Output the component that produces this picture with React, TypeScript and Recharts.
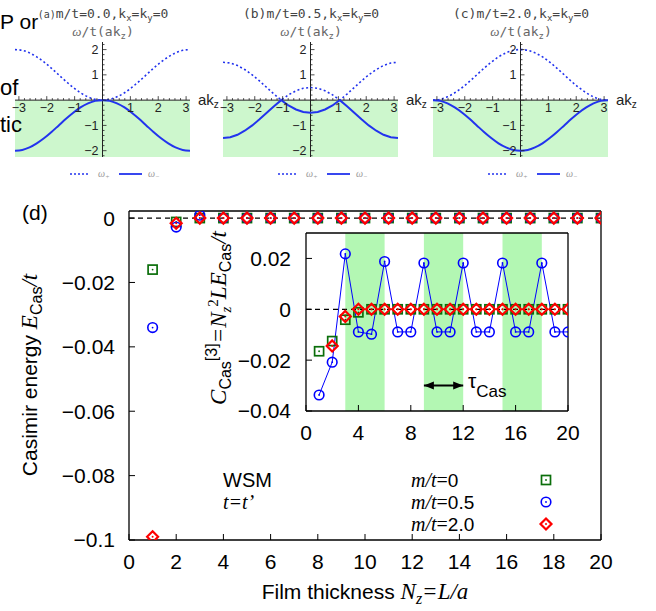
import React from 'react';
import {
  LineChart, Line, XAxis, YAxis, ReferenceArea, ReferenceLine,
  ScatterChart, Scatter, ComposedChart,
} from 'recharts';

// ---------------- fonts / colours ----------------
const SANS = "'Liberation Sans', Arial, Helvetica, sans-serif";
const SERIF = "'Liberation Serif', 'Times New Roman', serif";
const MONO = "'DejaVu Sans Mono', 'Liberation Mono', monospace";
const GREEN = '#0a6e0a';
const BLUE = '#0000ff';
const RED = '#ff0000';
const BAND = '#b3f7b3';
const TOP_GREEN = '#cdf7cd';
const CURVE = '#2233ee';

// ---------------- top panels: ω/t vs ak_z ----------------
const K = [-3.14, -2.88, -2.62, -2.36, -2.09, -1.83, -1.57, -1.31, -1.05, -0.79, -0.52, -0.26, 0,
  0.26, 0.52, 0.79, 1.05, 1.31, 1.57, 1.83, 2.09, 2.36, 2.62, 2.88, 3.14];
const A_PLUS = [2, 1.97, 1.87, 1.71, 1.5, 1.26, 1, 0.74, 0.5, 0.29, 0.13, 0.03, 0,
  0.03, 0.13, 0.29, 0.5, 0.74, 1, 1.26, 1.5, 1.71, 1.87, 1.97, 2];
const A_MINUS = [-2, -1.97, -1.87, -1.71, -1.5, -1.26, -1, -0.74, -0.5, -0.29, -0.13, -0.03, 0,
  -0.03, -0.13, -0.29, -0.5, -0.74, -1, -1.26, -1.5, -1.71, -1.87, -1.97, -2];
const B_PLUS = [1.5, 1.47, 1.37, 1.21, 1, 0.76, 0.5, 0.24, 0, 0.21, 0.37, 0.47, 0.5,
  0.47, 0.37, 0.21, 0, 0.24, 0.5, 0.76, 1, 1.21, 1.37, 1.47, 1.5];
const B_MINUS = [-1.5, -1.47, -1.37, -1.21, -1, -0.76, -0.5, -0.24, 0, -0.21, -0.37, -0.47, -0.5,
  -0.47, -0.37, -0.21, 0, -0.24, -0.5, -0.76, -1, -1.21, -1.37, -1.47, -1.5];
const C_PLUS = [0, 0.03, 0.13, 0.29, 0.5, 0.74, 1, 1.26, 1.5, 1.71, 1.87, 1.97, 2,
  1.97, 1.87, 1.71, 1.5, 1.26, 1, 0.74, 0.5, 0.29, 0.13, 0.03, 0];
const C_MINUS = [0, -0.03, -0.13, -0.29, -0.5, -0.74, -1, -1.26, -1.5, -1.71, -1.87, -1.97, -2,
  -1.97, -1.87, -1.71, -1.5, -1.26, -1, -0.74, -0.5, -0.29, -0.13, -0.03, 0];
const TOP_X_TICKS = [-3, -2.8, -2.6, -2.4, -2.2, -2, -1.8, -1.6, -1.4, -1.2, -1, -0.8, -0.6, -0.4, -0.2, 0,
  0.2, 0.4, 0.6, 0.8, 1, 1.2, 1.4, 1.6, 1.8, 2, 2.2, 2.4, 2.6, 2.8, 3];
const TOP_Y_TICKS = [-2.2, -2, -1.8, -1.6, -1.4, -1.2, -1, -0.8, -0.6, -0.4, -0.2, 0,
  0.2, 0.4, 0.6, 0.8, 1, 1.2, 1.4, 1.6, 1.8, 2, 2.2];
const PANEL_TITLES = ['(a)', '(b)', '(c)'];
const PANEL_M = ['0.0', '0.5', '2.0'];

// ---------------- panel (d): Casimir energy ----------------
const NZ = [1, 2, 3, 4, 5, 6, 7, 8, 9, 10, 11, 12, 13, 14, 15, 16, 17, 18, 19, 20];
const E_M0 = [-0.016, -0.0012, 0, 0, 0, 0, 0, 0, 0, 0, 0, 0, 0, 0, 0, 0, 0, 0, 0, 0];
const E_M05 = [-0.034, -0.0028, 0.0009, 0, 0, 0, 0, 0, 0, 0, 0, 0, 0, 0, 0, 0, 0, 0, 0, 0];
const E_M2 = [-0.099, -0.0016, 0, 0, 0, 0, 0, 0, 0, 0, 0, 0, 0, 0, 0, 0, 0, 0, 0, 0];
const MAIN_X_TICKS = [0, 2, 4, 6, 8, 10, 12, 14, 16, 18, 20];
const MAIN_Y_TICKS = [0, -0.02, -0.04, -0.06, -0.08, -0.1];
const LEGEND_M = ['0', '0.5', '2.0'];

// inset: C_Cas^[3]
const C_M0 = [-0.0165, -0.0125, -0.0041, -0.0012, 0, 0, 0, 0, 0, 0, 0, 0, 0, 0, 0, 0, 0, 0, 0, 0];
const C_M05 = [-0.0337, -0.0208, 0.0218, -0.0089, -0.0098, 0.0188, -0.0089, -0.0089, 0.0182, -0.0089,
  -0.0089, 0.0182, -0.0089, -0.0089, 0.0182, -0.0089, -0.0089, 0.0182, -0.0089, -0.0089];
const C_M2_NZ = [2, 3, 4, 5, 6, 7, 8, 9, 10, 11, 12, 13, 14, 15, 16, 17, 18, 19, 20];
const C_M2 = [-0.0144, -0.0028, 0, 0, 0, 0, 0, 0, 0, 0, 0, 0, 0, 0, 0, 0, 0, 0, 0];
const INSET_X_TICKS = [0, 4, 8, 12, 16, 20];
const INSET_Y_TICKS = [0.02, 0, -0.02, -0.04];
const BANDS = [[3, 6], [9, 12], [15, 18]];
const ARROW_X = [9, 12];
const ARROW_Y = -0.03;

// ---------------- layout constants ----------------
const TOP_T = 42;
const TOP_H = 115;
const TOP_W = 175;
const Y_MAX = 2.3;
const Y_MIN = -2.25;
const ZERO_DY = TOP_T + TOP_H * (Y_MAX / (Y_MAX - Y_MIN)) - (TOP_T + TOP_H);
const PANEL_LEFT = [0, 208, 418];

const fmtMinus = (v: number) => (v < 0 ? '\u2212' + String(Math.abs(v)) : String(v));

const TopXTick = (p: any) => {
  const v = p.payload.value;
  const major = Math.abs(v - Math.round(v)) < 1e-6;
  const y0 = p.y + ZERO_DY;
  return (
    <g>
      <line x1={p.x} x2={p.x} y1={y0} y2={y0 - (major ? 4 : 2)} stroke="#222" strokeWidth={0.8} />
      {major && v !== 0 ? (
        <text x={p.x} y={y0 + 12} textAnchor="middle" fontSize={12.5} fill="#222" fontFamily={SANS}>{fmtMinus(v)}</text>
      ) : null}
    </g>
  );
};

const TopYTick = (p: any) => {
  const v = p.payload.value;
  const major = Math.abs(v - Math.round(v)) < 1e-6;
  const x0 = p.x + TOP_W / 2;
  return (
    <g>
      <line x1={x0} x2={x0 + (major ? 4 : 2)} y1={p.y} y2={p.y} stroke="#222" strokeWidth={0.8} />
      {major && v !== 0 ? (
        <text x={x0 - 4} y={p.y + 4.5} textAnchor="end" fontSize={12.5} fill="#222" fontFamily={SANS}>{fmtMinus(v)}</text>
      ) : null}
    </g>
  );
};

const PANELS = [
  { plus: A_PLUS, minus: A_MINUS, curve: 'monotone' },
  { plus: B_PLUS, minus: B_MINUS, curve: 'linear' },
  { plus: C_PLUS, minus: C_MINUS, curve: 'monotone' },
];

function TopPanel({ idx }: { idx: number }) {
  const cfg = PANELS[idx];
  const data = K.map((k, i) => ({ k, p: cfg.plus[i], m: cfg.minus[i] }));
  return (
    <div style={{ position: 'absolute', left: PANEL_LEFT[idx], top: 0 }}>
      <LineChart width={210} height={180} data={data} margin={{ top: TOP_T, right: 20, bottom: 22, left: 14 }}>
        <XAxis dataKey="k" type="number" domain={[-3.14, 3.14]} ticks={TOP_X_TICKS} interval={0} height={1}
          axisLine={false} tickLine={false} tickSize={0} tickMargin={0} tick={<TopXTick />} allowDataOverflow />
        <YAxis type="number" domain={[Y_MIN, Y_MAX]} ticks={TOP_Y_TICKS} interval={0} width={1}
          axisLine={false} tickLine={false} tickSize={0} tickMargin={0} tick={<TopYTick />} allowDataOverflow />
        <ReferenceArea x1={-3.14} x2={3.14} y1={Y_MIN} y2={0} fill={TOP_GREEN} fillOpacity={1} stroke="none" />
        <ReferenceLine y={0} stroke="#222" strokeWidth={1} />
        <ReferenceLine x={0} stroke="#222" strokeWidth={1} />
        <Line dataKey="p" type={cfg.curve as any} stroke={CURVE} strokeWidth={1.6} strokeDasharray="2 2.5"
          dot={false} isAnimationActive={false} />
        <Line dataKey="m" type={cfg.curve as any} stroke={CURVE} strokeWidth={2} dot={false} isAnimationActive={false} />
      </LineChart>
    </div>
  );
}

// ---------------- markers ----------------
const SquareMark = ({ cx, cy }: any) => (
  <g>
    <rect x={cx - 4.5} y={cy - 4.5} width={9} height={9} fill="none" stroke={GREEN} strokeWidth={1.7} />
    <circle cx={cx} cy={cy} r={0.9} fill={GREEN} />
  </g>
);
const CircleMark = ({ cx, cy }: any) => (
  <g>
    <circle cx={cx} cy={cy} r={4.8} fill="none" stroke={BLUE} strokeWidth={1.6} />
    <circle cx={cx} cy={cy} r={0.9} fill={BLUE} />
  </g>
);
const DiamondMark = ({ cx, cy }: any) => (
  <g>
    <polygon points={`${cx},${cy - 5.5} ${cx + 5.5},${cy} ${cx},${cy + 5.5} ${cx - 5.5},${cy}`}
      fill="none" stroke={RED} strokeWidth={2.2} />
    <circle cx={cx} cy={cy} r={1} fill={RED} />
  </g>
);

const ArrowHead = (p: any) => {
  const { cx, cy, index } = p;
  const dir = index === 0 ? 1 : -1;
  return (
    <polygon key={`ah${index}`} points={`${cx},${cy} ${cx + dir * 10},${cy - 4} ${cx + dir * 10},${cy + 4}`} fill="#000" />
  );
};

const axisTickStyle = { fontSize: 21, fill: '#000', fontFamily: SANS };

function MainChart() {
  const d0 = NZ.map((x, i) => ({ x, y: E_M0[i] }));
  const d05 = NZ.map((x, i) => ({ x, y: E_M05[i] }));
  const d2 = NZ.map((x, i) => ({ x, y: E_M2[i] }));
  return (
    <div style={{ position: 'absolute', left: 0, top: 0 }}>
      <ScatterChart width={656} height={611} margin={{ top: 210, right: 54, bottom: 41, left: 69 }}>
        <XAxis dataKey="x" type="number" domain={[0, 20]} ticks={MAIN_X_TICKS} interval={0} height={30}
          tickSize={-6} tickMargin={20} tick={axisTickStyle} axisLine={{ stroke: '#000', strokeWidth: 1.3 }}
          tickLine={{ stroke: '#000' }} allowDataOverflow />
        <XAxis xAxisId="top" orientation="top" type="number" domain={[0, 20]} ticks={MAIN_X_TICKS} interval={0}
          height={1} tickSize={-6} tick={false} axisLine={{ stroke: '#000', strokeWidth: 1.3 }}
          tickLine={{ stroke: '#000' }} allowDataOverflow />
        <YAxis dataKey="y" type="number" domain={[-0.1, 0.0022]} ticks={MAIN_Y_TICKS} interval={0} width={60}
          tickSize={-6} tickMargin={20} tick={axisTickStyle} tickFormatter={fmtMinus}
          axisLine={{ stroke: '#000', strokeWidth: 1.3 }} tickLine={{ stroke: '#000' }} allowDataOverflow />
        <YAxis yAxisId="right" orientation="right" type="number" domain={[-0.1, 0.0022]} ticks={MAIN_Y_TICKS}
          interval={0} width={1} tickSize={-6} tick={false} axisLine={{ stroke: '#000', strokeWidth: 1.3 }}
          tickLine={{ stroke: '#000' }} allowDataOverflow />
        <ReferenceLine y={0} stroke="#000" strokeWidth={1.3} strokeDasharray="5 4" />
        <Scatter data={d0} shape={SquareMark} isAnimationActive={false} />
        <Scatter data={d05} shape={CircleMark} isAnimationActive={false} />
        <Scatter data={d2} shape={DiamondMark} isAnimationActive={false} />
      </ScatterChart>
    </div>
  );
}

function InsetChart() {
  const d0 = NZ.map((x, i) => ({ x, y: C_M0[i] }));
  const d05 = NZ.map((x, i) => ({ x, y: C_M05[i] }));
  const d2 = C_M2_NZ.map((x, i) => ({ x, y: C_M2[i] }));
  const arrow = ARROW_X.map((x) => ({ x, y: ARROW_Y }));
  return (
    <div style={{ position: 'absolute', left: 0, top: 0 }}>
      <ComposedChart width={656} height={611} margin={{ top: 232, right: 87, bottom: 170, left: 246 }}>
        <XAxis dataKey="x" type="number" domain={[0, 20]} ticks={INSET_X_TICKS} interval={0} height={30}
          tickSize={-6} tickMargin={20} tick={axisTickStyle} axisLine={{ stroke: '#000', strokeWidth: 1.3 }}
          tickLine={{ stroke: '#000' }} allowDataOverflow />
        <XAxis xAxisId="top" orientation="top" type="number" domain={[0, 20]} ticks={INSET_X_TICKS} interval={0}
          height={1} tickSize={-6} tick={false} axisLine={{ stroke: '#000', strokeWidth: 1.3 }}
          tickLine={{ stroke: '#000' }} allowDataOverflow />
        <YAxis dataKey="y" type="number" domain={[-0.04, 0.03]} ticks={INSET_Y_TICKS} interval={0} width={60}
          tickSize={-6} tickMargin={21} tick={axisTickStyle} tickFormatter={fmtMinus}
          axisLine={{ stroke: '#000', strokeWidth: 1.3 }} tickLine={{ stroke: '#000' }} allowDataOverflow />
        <YAxis yAxisId="right" orientation="right" type="number" domain={[-0.04, 0.03]} ticks={INSET_Y_TICKS}
          interval={0} width={1} tickSize={-6} tick={false} axisLine={{ stroke: '#000', strokeWidth: 1.3 }}
          tickLine={{ stroke: '#000' }} allowDataOverflow />
        {BANDS.map(([a, b]) => (
          <ReferenceArea key={`band${a}`} x1={a} x2={b} fill={BAND} fillOpacity={1} stroke="none" />
        ))}
        <ReferenceLine y={0} stroke="#000" strokeWidth={1.3} strokeDasharray="5 4" />
        <Line data={arrow} dataKey="y" type="linear" stroke="#000" strokeWidth={2} dot={ArrowHead}
          isAnimationActive={false} legendType="none" />
        <Scatter data={d0} dataKey="y" shape={SquareMark} isAnimationActive={false} />
        <Line data={d05} dataKey="y" type="linear" stroke={BLUE} strokeWidth={1} dot={false} isAnimationActive={false} />
        <Scatter data={d05} dataKey="y" shape={CircleMark} isAnimationActive={false} />
        <Scatter data={d2} dataKey="y" shape={DiamondMark} isAnimationActive={false} />
      </ComposedChart>
    </div>
  );
}

function Annotations() {
  return (
    <svg width={656} height={611} style={{ position: 'absolute', left: 0, top: 0, pointerEvents: 'none' }}>
      {/* fragments of page text behind the figure */}
      <text x={0} y={29} fontSize={21} fontFamily={SANS} fill="#000">P or</text>
      <text x={0} y={95} fontSize={22} fontFamily={SANS} fill="#000">of</text>
      <text x={0} y={132} fontSize={22} fontFamily={SANS} fill="#000">tic</text>

      {PANEL_LEFT.map((ox, i) => (
        <g key={`pt${i}`}>
          <text x={ox + 103} y={18} textAnchor="middle" fontSize={13} fontFamily={MONO} fill="#444">
            <tspan fontSize={i === 0 ? 10 : 13}>{PANEL_TITLES[i]}</tspan>
            <tspan>{`m/t=${PANEL_M[i]},k`}</tspan>
            <tspan fontSize={9} dy={3}>x</tspan>
            <tspan dy={-3}>=k</tspan>
            <tspan fontSize={9} dy={3}>y</tspan>
            <tspan dy={-3}>=0</tspan>
          </text>
          <text x={ox + 103} y={36} textAnchor="middle" fontSize={13} fontFamily={MONO} fill="#666">
            <tspan fontStyle="italic" fontFamily={SERIF}>ω</tspan>
            <tspan>/t(ak</tspan>
            <tspan fontSize={9} dy={3}>z</tspan>
            <tspan dy={-3}>)</tspan>
          </text>
          <text x={ox + 198} y={105} fontSize={15} fontFamily={SANS} fill="#222">
            ak<tspan fontSize={10} dy={3}>z</tspan>
          </text>
          <line x1={ox + 70} x2={ox + 90} y1={174} y2={174} stroke={CURVE} strokeWidth={1.4} strokeDasharray="2 2" />
          <text x={ox + 98} y={177} fontSize={10} fontFamily={SERIF} fontStyle="italic" fill="#999">
            ω<tspan fontSize={7} dy={2}>+</tspan>
          </text>
          <line x1={ox + 119} x2={ox + 142} y1={174} y2={174} stroke={CURVE} strokeWidth={1.8} />
          <text x={ox + 148} y={177} fontSize={10} fontFamily={SERIF} fontStyle="italic" fill="#999">
            ω<tspan fontSize={7} dy={2}>−</tspan>
          </text>
        </g>
      ))}

      <text x={22} y={220} fontSize={21} fontFamily={SANS} fill="#000">(d)</text>

      <text transform="translate(37,375) rotate(-90)" textAnchor="middle" fontSize={21} fontFamily={SANS} fill="#000">
        Casimir energy <tspan fontFamily={SERIF} fontStyle="italic" fontSize={23}>E</tspan>
        <tspan fontSize={16} dy={5}>Cas</tspan>
        <tspan dy={-5} fontFamily={SERIF} fontStyle="italic" fontSize={23}>/t</tspan>
      </text>

      <text x={365} y={599} textAnchor="middle" fontSize={21} fontFamily={SANS} fill="#000">
        Film thickness <tspan fontFamily={SERIF} fontStyle="italic" fontSize={23}>N</tspan>
        <tspan fontFamily={SERIF} fontStyle="italic" fontSize={16} dy={5}>z</tspan>
        <tspan fontFamily={SERIF} fontStyle="italic" fontSize={23} dy={-5}>=L/a</tspan>
      </text>

      <text transform="translate(226,318) rotate(-90)" textAnchor="middle" fontSize={23} fontFamily={SERIF}
        fontStyle="italic" fill="#000">
        <tspan>C</tspan>
        <tspan fontSize={16} dy={5} fontFamily={SANS} fontStyle="normal">Cas</tspan>
        <tspan fontSize={16} dy={-14} fontFamily={SANS} fontStyle="normal">[3]</tspan>
        <tspan dy={9}>=N</tspan>
        <tspan fontSize={15} dy={5}>z</tspan>
        <tspan fontSize={15} dy={-13} fontStyle="normal">2</tspan>
        <tspan dy={8}>LE</tspan>
        <tspan fontSize={16} dy={5} fontFamily={SANS} fontStyle="normal">Cas</tspan>
        <tspan dy={-5}>/t</tspan>
      </text>

      <text x={468} y={388} fontSize={21} fontFamily={SANS} fill="#000">
        τ<tspan fontSize={17} dy={9}>Cas</tspan>
      </text>

      <text x={223} y={487} fontSize={20} fontFamily={SANS} fill="#000">WSM</text>
      <text x={223} y={509} fontSize={20} fontFamily={SERIF} fontStyle="italic" fill="#000">t=t’</text>
      {LEGEND_M.map((m, i) => (
        <text key={`lg${i}`} x={411} y={487 + 22 * i} fontSize={20} fill="#000">
          <tspan fontFamily={SERIF} fontStyle="italic">m/t</tspan>
          <tspan fontFamily={SERIF}>=</tspan>
          <tspan fontFamily={SANS} fontSize={19}>{m}</tspan>
        </text>
      ))}
      <SquareMark cx={546} cy={480} />
      <CircleMark cx={546} cy={502} />
      <DiamondMark cx={546} cy={524} />
    </svg>
  );
}

export default function App() {
  return (
    <div style={{ position: 'absolute', left: 0, top: 0, width: 656, height: 611, background: '#fff', overflow: 'hidden' }}>
      <MainChart />
      <InsetChart />
      {PANEL_LEFT.map((_, i) => (
        <TopPanel key={`panel${i}`} idx={i} />
      ))}
      <Annotations />
    </div>
  );
}
